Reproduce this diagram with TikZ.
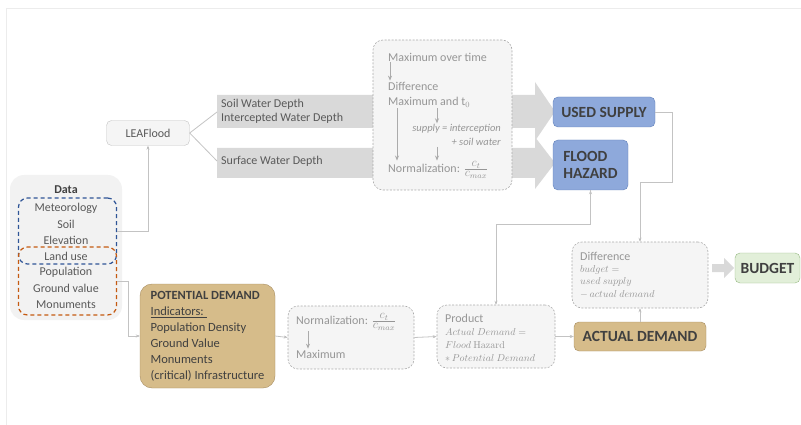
\documentclass[tikz,border=0pt]{standalone}
\usepackage[no-math]{fontspec}
\setmainfont{Carlito}
\usepackage{tikz}
\usetikzlibrary{arrows.meta}
\tikzset{>=Stealth}
\definecolor{txtdark}{RGB}{64,64,64}
\definecolor{txtmid}{RGB}{89,89,89}
\definecolor{txtproc}{RGB}{150,150,150}
\definecolor{linegray}{RGB}{195,195,195}
\definecolor{bandgray}{RGB}{217,217,217}
\definecolor{procfill}{RGB}{245,245,245}
\definecolor{datafill}{RGB}{242,242,242}
\definecolor{bluefill}{RGB}{142,169,219}
\definecolor{blueline}{RGB}{96,128,186}
\definecolor{tanfill}{RGB}{214,188,138}
\definecolor{tanline}{RGB}{166,140,96}
\definecolor{greenfill}{RGB}{226,239,217}
\definecolor{greenline}{RGB}{150,185,130}
\definecolor{dashblue}{RGB}{47,85,151}
\definecolor{dashorange}{RGB}{197,90,17}
\newcommand{\ctfrac}{{\fontsize{12}{12}\selectfont$\frac{\textstyle c_t}{\textstyle c_{max}}$}}

\begin{document}
\begin{tikzpicture}[x=1pt,y=-1pt,
    lbl/.style={anchor=west,inner sep=1pt,text=txtproc,font=\fontsize{12}{14}\selectfont},
    eqlbl/.style={lbl,inner sep=0pt,font=\fontsize{10.3}{11}\selectfont},
    datatxt/.style={inner sep=1pt,text=txtmid,font=\fontsize{12}{14}\selectfont},
    outbox/.style={draw=blueline,fill=bluefill,rounded corners=5pt,inner sep=0pt,text=txtdark,
        font=\fontsize{15.5}{17}\selectfont\bfseries},
    tanbox/.style={draw=tanline,fill=tanfill,rounded corners=5pt,inner sep=0pt,text=txtdark},
    procbox/.style={draw=txtproc!80,fill=procfill,rounded corners=10pt,inner sep=0pt,
        dash pattern=on 2pt off 1.5pt,line width=0.6pt},
    dataframe/.style={draw=#1,rounded corners=9pt,dash pattern=on 4pt off 3pt,line width=1.2pt,inner sep=0pt},
    conn/.style={draw=linegray,line width=0.8pt},
    inarr/.style={draw=txtproc!80,line width=0.7pt,-{Stealth[length=5pt,width=4pt]}},
    band/.style={fill=bandgray}
    ]
\useasboundingbox (0,0) rectangle (801,425);
\draw[gray!15,line width=1pt] (6,425) -- (6,9) -- (801,9);

% data
\node[fill=datafill,rounded corners=14pt,minimum width=112,minimum height=145] at (66,247.5) (data) {};
\node[datatxt,text=txtdark,font=\fontsize{12}{14}\selectfont\bfseries] at (66,190) (datatitle) {Data};
\foreach \t [count=\i] in {Meteorology,Soil,Elevation,Land use,Population,Ground value,Monuments}
    \node[datatxt] at (66,192+16.1*\i) (d\i) {\t};
\node[dataframe=dashblue,minimum width=98,minimum height=66] at (67.5,231) (datablue) {};
\node[dataframe=dashorange,minimum width=98,minimum height=68] at (67.5,281) (dataorange) {};

\node[draw=linegray,fill=procfill,rounded corners=5pt,minimum width=83,minimum height=25,
    text=txtmid,font=\fontsize{12}{14}\selectfont] at (148,133) (leaf) {LEAFlood};

% water depth bands
\fill[band] (217,95) -- (535,95) -- (535,82) -- (555,111.5) -- (535,141) -- (535,128) -- (217,128) -- cycle;
\fill[band] (217,148) -- (535,148) -- (535,137) -- (555,163) -- (535,189) -- (535,178) -- (217,178) -- cycle;
\coordinate (swin) at (217,112);
\coordinate (surfin) at (217,161);
\node[datatxt,anchor=west,align=left,font=\fontsize{12}{14}\selectfont] at (220,111) (soil) {Soil Water Depth\\Intercepted Water Depth};
\node[datatxt,anchor=west] at (220,161) (surface) {Surface Water Depth};

% processing of the water depths
\node[procbox,minimum width=139,minimum height=150] at (442.5,115) (proc) {};
\node[lbl] at (387,57) (maxtime) {Maximum over time};
\node[lbl] at (387,86) (diff1) {Difference};
\node[lbl] at (387,102) (maxt) {Maximum and t$_0$};
\node[lbl,anchor=east,font=\fontsize{10.5}{12}\selectfont\itshape] at (502,129) (supply) {supply = interception};
\node[lbl,anchor=east,font=\fontsize{10.5}{12}\selectfont\itshape] at (502,142) (soilw) {+ soil water};
\node[lbl] at (387,170) (norm1) {Normalization: \ctfrac};
\coordinate (s1) at ([xshift=50pt]maxt.south west);
\coordinate (s2) at ([xshift=10pt]maxt.south west);
\draw[inarr] ([xshift=3pt]maxtime.south west) -- ([xshift=3pt]diff1.north west);
\draw[inarr] (s1) -- (s1 |- supply.north);
\draw[inarr] (s1 |- soilw.south) -- (s1 |- norm1.north);
\draw[inarr] (s2) -- (s2 |- norm1.north);

% outputs
\node[outbox,minimum width=102,minimum height=30] at (604,112) (usedsup) {USED SUPPLY};
\node[outbox,minimum width=75,minimum height=50,align=left] at (590.5,165) (flood) {FLOOD\\HAZARD};

\node[tanbox,minimum width=135,minimum height=104,rounded corners=12pt,align=left,
    font=\fontsize{12.5}{16}\selectfont] at (207.5,336) (potdem)
    {\textbf{POTENTIAL DEMAND}\\\underline{Indicators:\ }\\Population Density\\Ground Value\\Monuments\\(critical) Infrastructure};

\node[procbox,minimum width=126,minimum height=63] at (351,337.5) (normbox) {};
\node[lbl] at (295,322) (norm2) {Normalization: \ctfrac};
\node[lbl] at (295,354) (maxim) {Maximum};
\draw[inarr] ([xshift=13pt]norm2.south west) -- ([xshift=13pt]maxim.north west);

\node[procbox,minimum width=118,minimum height=63] at (496,336.5) (product) {};
\node[lbl] at (444,318) (prodtitle) {Product};
\node[eqlbl] at (445,332) (prod1) {$Actual\ Demand =$};
\node[eqlbl] at (445,345) (prod2) {$Flood\ \mathrm{Hazard}$};
\node[eqlbl] at (445,358) (prod3) {$*\,Potential\ Demand$};

\node[tanbox,minimum width=132,minimum height=29,font=\fontsize{15.5}{17}\selectfont\bfseries] at (640,336.5) (actdem) {ACTUAL DEMAND};

\node[procbox,minimum width=136,minimum height=66] at (640,275) (diff) {};
\node[lbl] at (579,256) (difftitle) {Difference};
\node[eqlbl] at (580,270) (budg1) {$budget =$};
\node[eqlbl] at (580,282) (budg2) {$used\ supply$};
\node[eqlbl] at (580,294) (budg3) {$-\,actual\ demand$};

\fill[band] (712,264) -- (724,264) -- (724,258) -- (734,268) -- (724,278) -- (724,272) -- (712,272) -- cycle;
\node[draw=greenline,fill=greenfill,rounded corners=5pt,minimum width=65,minimum height=30,inner sep=0pt,
    text=txtdark,font=\fontsize{15.5}{17}\selectfont\bfseries] at (767.5,268) (budget) {BUDGET};

% connectors
\path[conn,-{Stealth[length=4pt,width=3pt]}]
    (datablue.east) edge [to path={-| (\tikztotarget)}] (leaf.south)
    (dataorange.east) edge [to path={-- ++(11,0) |- (\tikztotarget)}] (potdem.west)
    (potdem.east) edge (normbox.west)
    (normbox.east) edge (product.west)
    (product.east) edge (actdem.west)
    (actdem.north) edge (diff.south)
    (usedsup.east) edge [to path={-- ++(17,0) |- ([yshift=59pt]\tikztotarget) -- (\tikztotarget)}] (diff.north)
    (flood.south) edge [to path={|- ([yshift=80pt]\tikztotarget) -- (\tikztotarget)}] (product.north)
    ;
\path[conn]
    (leaf.east) edge (swin)
    (leaf.east) edge (surfin)
    ;
\end{tikzpicture}
\end{document}
